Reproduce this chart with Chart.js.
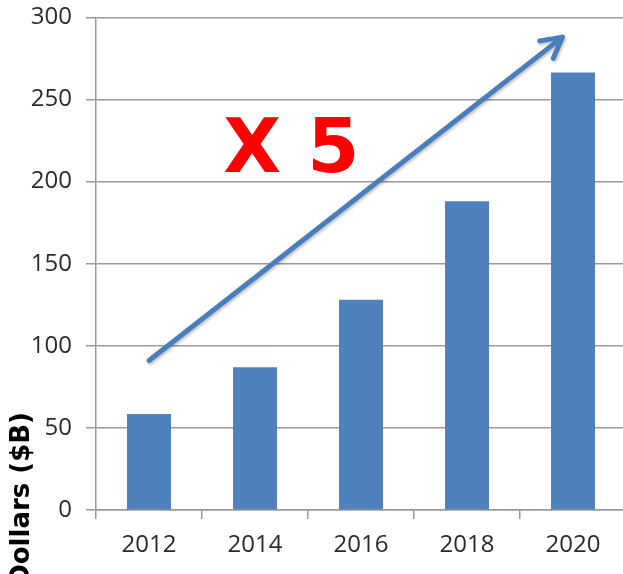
<!DOCTYPE html>
<html>
<head>
<meta charset="utf-8">
<script src="https://cdn.jsdelivr.net/npm/chart.js@4/dist/chart.umd.min.js"></script>
<style>
    html, body { margin: 0; padding: 0; overflow: hidden; background: #fff; }
    /* taller than the window and nudged up so the 300 line lands near the top edge */
    #wrap { width: 627px; height: 585px; margin-top: -11px; }
</style>
</head>
<body>
<div id="wrap"><canvas id="growthChart"></canvas></div>
<script>
// years on the x axis
var years = ['2012', '2014', '2016', '2018', '2020'];
// market size in billions of dollars
var dollars = [58.5, 87, 128, 188, 266.5];
// y ticks
var yTicks = [0, 50, 100, 150, 200, 250, 300];
// trend arrow, as [category index, value]
var arrowFrom = [0, 91];
var arrowTo = [3.9, 288];
var arrowLabel = 'X 5';
var axisTitle = 'Dollars ($B)';

/**
 * Draw the trend arrow and the big label over the bars
 */
var annotate = {
    id: 'annotate',
    afterDatasetsDraw: function (chart) {
        var ctx = chart.ctx;
        var xs = chart.scales.x, ys = chart.scales.y;
        var x1 = xs.getPixelForValue(arrowFrom[0]), y1 = ys.getPixelForValue(arrowFrom[1]);
        var x2 = xs.getPixelForValue(arrowTo[0]), y2 = ys.getPixelForValue(arrowTo[1]);
        var ang = Math.atan2(y2 - y1, x2 - x1);

        ctx.save();
        ctx.strokeStyle = '#4a7ebb';
        ctx.lineWidth = 5;
        ctx.lineCap = 'round';
        ctx.lineJoin = 'round';
        ctx.shadowColor = 'rgba(0,0,0,0.25)';
        ctx.shadowBlur = 3;
        ctx.shadowOffsetX = 1;
        ctx.shadowOffsetY = 2;
        ctx.beginPath();
        ctx.moveTo(x1, y1);
        ctx.lineTo(x2, y2);
        // arrow head
        var len = 23, spread = 0.5;
        ctx.moveTo(x2 - len * Math.cos(ang - spread), y2 - len * Math.sin(ang - spread));
        ctx.lineTo(x2, y2);
        ctx.lineTo(x2 - len * Math.cos(ang + spread), y2 - len * Math.sin(ang + spread));
        ctx.stroke();
        ctx.restore();

        // "X 5" label
        ctx.save();
        ctx.fillStyle = '#ff0000';
        ctx.font = 'bold 75px "DejaVu Sans"';
        ctx.textAlign = 'left';
        ctx.textBaseline = 'alphabetic';
        ctx.fillText(arrowLabel, xs.getPixelForValue(0.7), ys.getPixelForValue(206));
        ctx.restore();

        // y axis title, sits low on the left edge
        ctx.save();
        ctx.fillStyle = '#000';
        ctx.font = 'bold 26px "DejaVu Sans"';
        ctx.translate(22, 423);
        ctx.rotate(-Math.PI / 2);
        ctx.textAlign = 'right';
        ctx.textBaseline = 'middle';
        ctx.fillText(axisTitle, 0, 0);
        ctx.restore();
    }
};

function makeChart() {
    var ctx = document.getElementById('growthChart').getContext('2d');
    new Chart(ctx, {
        type: 'bar',
        data: {
            labels: years,
            datasets: [{
                data: dollars,
                backgroundColor: '#4f81bd',
                borderWidth: 0,
                categoryPercentage: 1,
                barPercentage: 0.415
            }]
        },
        options: {
            responsive: true,
            maintainAspectRatio: false,
            animation: false,
            layout: { padding: { top: 7, right: 1, left: 0, bottom: 0 } },
            plugins: {
                legend: { display: false },
                tooltip: { enabled: false }
            },
            scales: {
                x: {
                    offset: true,
                    grid: {
                        offset: true,
                        drawOnChartArea: false,
                        drawTicks: true,
                        tickLength: 9,
                        color: '#999999',
                        lineWidth: 1.5
                    },
                    border: { color: '#999999', width: 1.5 },
                    ticks: {
                        color: '#2b2b2b',
                        font: { family: '"Open Sans"', size: 24 },
                        padding: 12,
                        maxRotation: 0
                    },
                    afterFit: function (scale) { scale.height = 64; }
                },
                y: {
                    min: 0,
                    max: 300,
                    afterBuildTicks: function (scale) {
                        scale.ticks = yTicks.map(function (v) { return { value: v }; });
                    },
                    grid: {
                        color: '#999999',
                        lineWidth: 1.5,
                        tickLength: 10
                    },
                    border: { color: '#999999', width: 1.5 },
                    ticks: {
                        color: '#2b2b2b',
                        font: { family: '"Open Sans"', size: 24 },
                        padding: 14
                    },
                    afterFit: function (scale) { scale.width = 96; }
                }
            }
        },
        plugins: [annotate]
    });
}

makeChart();
</script>
</body>
</html>
